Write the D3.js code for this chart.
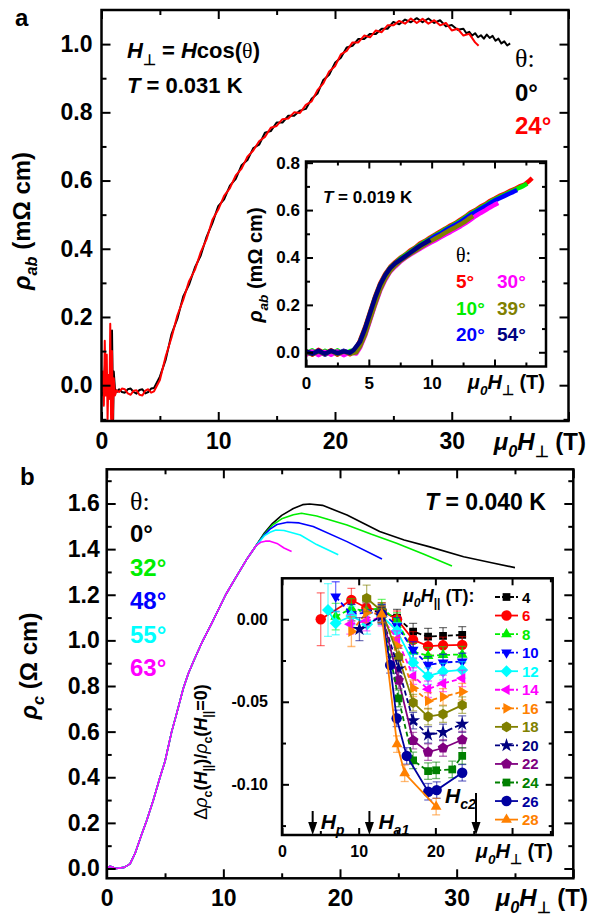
<!DOCTYPE html>
<html>
<head>
<meta charset="utf-8">
<script src="https://d3js.org/d3.v7.min.js"></script>
<style>
  body { margin: 0; background: #fff; }
</style>
</head>
<body>
<script>
var FONT = "'Liberation Sans', Arial, Helvetica, sans-serif";

// ---------- panel a: rho_ab vs mu0 H_perp, T = 0.031 K ----------
var aTheta = ["0°", "24°"];
var aColors = ["#000000", "#ff0000"];
var aCurve0 = [[0.0,0.02],[0.15,-0.03],[0.3,0.06],[0.45,-0.02],[0.6,0.03],[0.75,-0.04],[0.9,0.16],[1.0,-0.1],[1.05,0.04],[1.15,-0.01],[1.3,-0.02],
  [1.5,-0.012],[1.75,-0.02],[2.0,-0.022],[2.25,-0.012],[2.5,-0.01],[2.75,-0.02],[3.0,-0.025],[3.25,-0.014],[3.5,-0.012],[3.75,-0.024],[4.0,-0.02],[4.25,-0.01],[4.5,-0.008],
  [5.0,0.025],[5.5,0.075],[6.0,0.15],[6.5,0.195],
  [7.0,0.26],[7.5,0.295],[8.0,0.345],[8.5,0.38],[9.0,0.435],[9.5,0.475],[10.0,0.525],[10.5,0.545],[11.0,0.585],[11.5,0.605],[12.0,0.645],
  [12.5,0.66],[13.0,0.695],[13.5,0.705],[14.0,0.74],[14.5,0.745],[15.0,0.77],[15.5,0.77],[16.0,0.79],[16.5,0.79],[17.0,0.805],[17.5,0.81],
  [18.0,0.84],[18.5,0.855],[19.0,0.895],[19.5,0.91],[20.0,0.945],[20.5,0.96],[21.0,0.99],[21.5,0.995],[22.0,1.015],[22.5,1.015],[23.0,1.03],
  [23.5,1.03],[24.0,1.045],[24.5,1.045],[25.0,1.065],[25.5,1.058],[26.0,1.072],[26.5,1.064],[27.0,1.076],[27.5,1.064],[28.0,1.075],
  [28.5,1.062],[29.0,1.07],[29.5,1.052],[30.0,1.056],[30.5,1.042],[31.0,1.045],[31.25,1.032],[31.5,1.036],[31.75,1.025],[32.0,1.032],
  [32.25,1.02],[32.5,1.026],[32.75,1.016],[33.0,1.028],[33.25,1.018],[33.5,1.024],[33.75,1.01],[34.0,1.016],[34.25,1.002],[34.5,1.008],
  [34.75,0.996],[35.0,1.002]];
var aCurve24 = [[0.0,-0.02],[0.1,0.04],[0.2,-0.06],[0.28,0.13],[0.36,-0.03],[0.45,0.09],[0.52,-0.1],[0.6,0.03],[0.68,-0.04],[0.75,0.18],
  [0.82,-0.1],[0.9,0.1],[0.97,-0.1],[1.05,0.02],[1.15,-0.03],[1.3,-0.015],
  [1.5,-0.02],[1.75,-0.01],[2.0,-0.012],[2.25,-0.024],[2.5,-0.028],[2.75,-0.016],[3.0,-0.015],[3.25,-0.028],[3.5,-0.03],[3.75,-0.016],[4.0,-0.012],[4.25,-0.022],[4.5,-0.018],
  [5.0,0.015],[5.5,0.085],[6.0,0.14],[6.5,0.205],
  [7.0,0.25],[7.5,0.305],[8.0,0.338],[8.5,0.39],[9.0,0.428],[9.5,0.485],[10.0,0.515],[10.5,0.555],[11.0,0.578],[11.5,0.615],[12.0,0.635],
  [12.5,0.67],[13.0,0.688],[13.5,0.715],[14.0,0.728],[14.5,0.755],[15.0,0.76],[15.5,0.78],[16.0,0.782],[16.5,0.8],[17.0,0.798],[17.5,0.822],
  [18.0,0.832],[18.5,0.865],[19.0,0.885],[19.5,0.92],[20.0,0.935],[20.5,0.97],[21.0,0.98],[21.5,1.005],[22.0,1.005],[22.5,1.025],[23.0,1.02],
  [23.5,1.04],[24.0,1.035],[24.5,1.055],[25.0,1.055],[25.5,1.068],[26.0,1.06],[26.5,1.075],[27.0,1.062],[27.5,1.074],[28.0,1.06],
  [28.5,1.07],[29.0,1.055],[29.5,1.062],[30.0,1.04],[30.5,1.045],[31.0,1.025],[31.5,1.03],[32.0,1.005],[32.3,0.995]];
var aXMajor = [0, 10, 20, 30, 40], aXMinor = [5, 15, 25, 35], aXLabels = [0, 10, 20, 30];
var aYMajor = [0, 0.2, 0.4, 0.6, 0.8, 1.0], aYMinor = [-0.1, 0.1, 0.3, 0.5, 0.7, 0.9];

// ---------- inset of panel a, T = 0.019 K ----------
var iaTheta = ["5°", "10°", "20°", "30°", "39°", "54°"];
var iaColors = ["#ff0000", "#00ee00", "#0000ff", "#ff00ff", "#808000", "#000080"];
var ia5 = [[0,0.005],[0.5,-0.01],[1,0.01],[1.5,-0.005],[2,0.008],[2.5,-0.01],[3,0.005],[3.5,-0.008],[4,0.015],[4.3,0.05],[4.7,0.105],
  [5.1,0.17],[5.5,0.235],[5.9,0.29],[6.3,0.33],[6.7,0.36],[7.1,0.38],[7.5,0.398],[7.9,0.412],[8.3,0.43],[8.7,0.442],[9.1,0.46],[9.5,0.47],
  [9.9,0.485],[10.3,0.497],[10.7,0.51],[11.1,0.522],[11.5,0.535],[11.9,0.545],[12.3,0.56],[12.7,0.573],[13.1,0.59],[13.5,0.6],[13.9,0.615],
  [14.3,0.625],[14.6,0.637],[15.0,0.648],[15.4,0.66],[15.8,0.668],[16.2,0.68],[16.6,0.688],[17.0,0.7],[17.4,0.708],[17.8,0.725],[18.0,0.735]];
var ia10 = [[0,-0.005],[0.5,0.008],[1,-0.01],[1.5,0.006],[2,-0.008],[2.5,0.008],[3,-0.01],[3.5,0.005],[4,0.008],[4.3,0.045],[4.7,0.1],
  [5.1,0.165],[5.5,0.23],[5.9,0.285],[6.3,0.325],[6.7,0.357],[7.1,0.376],[7.5,0.395],[7.9,0.41],[8.3,0.425],[8.7,0.44],[9.1,0.455],
  [9.5,0.468],[9.9,0.48],[10.3,0.494],[10.7,0.505],[11.1,0.52],[11.5,0.53],[11.9,0.543],[12.3,0.555],[12.7,0.57],[13.1,0.585],[13.5,0.597],
  [13.9,0.61],[14.3,0.622],[14.6,0.632],[15.0,0.645],[15.4,0.655],[15.8,0.665],[16.2,0.675],[16.6,0.685],[17.0,0.695],[17.3,0.702],[17.6,0.712]];
var ia20 = [[0,0.0],[0.5,-0.006],[1,0.006],[1.5,-0.01],[2,0.004],[2.5,-0.006],[3,0.006],[3.5,-0.004],[4,0.006],[4.3,0.04],[4.7,0.095],
  [5.1,0.16],[5.5,0.225],[5.9,0.28],[6.3,0.32],[6.7,0.352],[7.1,0.372],[7.5,0.39],[7.9,0.405],[8.3,0.42],[8.7,0.436],[9.1,0.45],[9.5,0.463],
  [9.9,0.476],[10.3,0.49],[10.7,0.5],[11.1,0.515],[11.5,0.527],[11.9,0.538],[12.3,0.55],[12.7,0.565],[13.1,0.58],[13.5,0.592],[13.9,0.605],
  [14.3,0.617],[14.6,0.627],[15.0,0.64],[15.4,0.65],[15.8,0.66],[16.2,0.67],[16.5,0.677],[16.8,0.685]];
var ia30 = [[0,-0.01],[0.5,0.004],[1,-0.012],[1.5,0.002],[2,-0.01],[2.5,0.004],[3,-0.012],[3.5,0.0],[4,-0.005],[4.3,0.02],[4.7,0.07],
  [5.1,0.135],[5.5,0.2],[5.9,0.26],[6.3,0.305],[6.7,0.34],[7.1,0.362],[7.5,0.382],[7.9,0.398],[8.3,0.412],[8.7,0.425],[9.1,0.438],[9.5,0.45],
  [9.9,0.462],[10.3,0.473],[10.7,0.485],[11.1,0.497],[11.5,0.508],[11.9,0.52],[12.3,0.532],[12.7,0.545],[13.1,0.56],[13.5,0.575],
  [13.9,0.588],[14.3,0.6],[14.6,0.61],[15.0,0.622],[15.3,0.63]];
var ia39 = [[0,0.0],[0.5,-0.008],[1,0.004],[1.5,-0.008],[2,0.006],[2.5,-0.008],[3,0.004],[3.5,-0.006],[4,0.0],[4.3,0.025],[4.7,0.075],
  [5.1,0.14],[5.5,0.205],[5.9,0.265],[6.3,0.31],[6.7,0.343],[7.1,0.366],[7.5,0.385],[7.9,0.4],[8.3,0.415],[8.7,0.428],[9.1,0.442],
  [9.5,0.455],[9.9,0.468],[10.3,0.48],[10.7,0.492],[11.1,0.505],[11.5,0.517],[11.9,0.528],[12.3,0.54],[12.7,0.553],[13.0,0.565],[13.3,0.575]];
var ia54 = [[0,0.004],[0.5,-0.006],[1,0.006],[1.5,-0.006],[2,0.006],[2.5,-0.004],[3,0.004],[3.5,-0.002],[3.8,0.01],[4.3,0.045],[4.7,0.1],
  [5.1,0.165],[5.5,0.23],[5.9,0.285],[6.3,0.325],[6.7,0.355],[7.1,0.375],[7.5,0.39],[7.9,0.405],[8.3,0.42],[8.7,0.435],[9.1,0.45],
  [9.5,0.462],[9.9,0.475]];
var iaXMajor = [0, 5, 10, 15], iaXMinor = [2.5, 7.5, 12.5, 17.5], iaXLabels = [0, 5, 10];
var iaYMajor = [0, 0.2, 0.4, 0.6, 0.8], iaYMinor = [0.1, 0.3, 0.5, 0.7];

// ---------- panel b: rho_c vs mu0 H_perp, T = 0.040 K ----------
var bTheta = ["0°", "32°", "48°", "55°", "63°"];
var bColors = ["#000000", "#00ee00", "#0000ff", "#00ffff", "#ff00ff"];
var bRise = [[0,0.0],[0.3,0.01],[0.8,0.0],[1.5,0.005],[2.0,0.02],[2.43,0.066],[3.0,0.15],[3.43,0.21],[4.0,0.3],[4.57,0.4],[5.0,0.47],
  [5.57,0.6],[6.0,0.68],[6.57,0.79],[7.0,0.855],[7.5,0.915],[8.2,0.995],[9.0,1.075],[10.2,1.2],[11.0,1.27],[12.0,1.355],[12.8,1.415]];
var bTail0 = [[13.5,1.47],[14.2,1.512],[15,1.548],[16,1.578],[16.8,1.595],[17.4,1.598],[18.5,1.592],[20.6,1.55],[23.4,1.477],
  [25.5,1.44],[27.7,1.41],[30.6,1.367],[33,1.34],[35.0,1.319]];
var bTail32 = [[13.5,1.465],[14.2,1.505],[15,1.533],[16,1.551],[16.7,1.557],[18,1.545],[20.6,1.506],[22.7,1.465],[24.85,1.426],
  [27.2,1.378],[29.6,1.326]];
var bTail48 = [[13.5,1.462],[14,1.488],[14.6,1.508],[15.5,1.518],[16.5,1.515],[17.7,1.499],[20.6,1.433],[23.6,1.357]];
var bTail55 = [[13.5,1.458],[14,1.474],[14.5,1.484],[15.2,1.482],[16.6,1.462],[18,1.42],[19.85,1.375]];
var bTail63 = [[13.2,1.43],[13.6,1.435],[14.0,1.435],[14.6,1.425],[15.2,1.405],[15.85,1.39]];
var bXMajor = [0, 10, 20, 30, 40], bXMinor = [5, 15, 25, 35], bXLabels = [0, 10, 20, 30];
var bYMajor = [0, 0.2, 0.4, 0.6, 0.8, 1.0, 1.2, 1.4, 1.6], bYMinor = [0.1, 0.3, 0.5, 0.7, 0.9, 1.1, 1.3, 1.5, 1.7];

// ---------- inset of panel b: [mu0H_perp, drho/rho, error] for each mu0H_par ----------
var parFields = [4, 6, 8, 10, 12, 14, 16, 18, 20, 22, 24, 26, 28];
var par4 = [[9.05,0.004,0.005],[11.0,0.006,0.005],[13.0,0.004,0.005],[15.0,0.001,0.005],[17.1,-0.0075,0.005],[19.05,-0.0105,0.005],[21.0,-0.0101,0.005],[23.5,-0.0095,0.005]];
var par6 = [[5.05,0.0,0.016],[9.05,0.0117,0.007],[11.0,0.007,0.006],[13.0,0.005,0.005],[15.0,0.0,0.005],[17.1,-0.0125,0.005],[19.05,-0.0163,0.005],[21.0,-0.0158,0.005],[23.5,-0.0155,0.005]];
var par8 = [[7.0,0.0016,0.008],[9.05,0.0065,0.006],[11.0,0.005,0.006],[13.0,0.007,0.005],[15.0,-0.001,0.005],[17.1,-0.0196,0.005],[19.05,-0.0222,0.005],[21.0,-0.0216,0.005],[23.5,-0.0214,0.005]];
var par10 = [[7.0,0.0137,0.009],[9.05,0.003,0.006],[11.0,0.004,0.006],[13.0,0.004,0.005],[15.0,-0.004,0.005],[17.1,-0.0186,0.005],[19.05,-0.0277,0.005],[21.0,-0.0262,0.005],[23.5,-0.0256,0.005]];
var par12 = [[6.0,0.0056,0.016],[7.0,-0.0024,0.007],[9.05,0.002,0.006],[11.1,-0.003,0.006],[13.0,0.002,0.005],[15.0,-0.007,0.005],[17.1,-0.0263,0.005],[19.05,-0.0345,0.005],[21.0,-0.0317,0.005],[23.5,-0.0307,0.005]];
var par14 = [[8.9,-0.003,0.006],[11.0,-0.001,0.006],[13.0,0.001,0.005],[15.0,-0.012,0.005],[17.1,-0.0344,0.005],[19.05,-0.0424,0.005],[21.0,-0.0388,0.005],[23.5,-0.0358,0.005]];
var par16 = [[9.05,-0.0075,0.009],[11.0,0.004,0.006],[13.0,0.003,0.005],[15.0,-0.016,0.005],[17.1,-0.0418,0.005],[19.05,-0.0495,0.005],[21.0,-0.047,0.005],[23.5,-0.0439,0.005]];
var par18 = [[11.04,0.0127,0.008],[13.0,0.005,0.005],[15.2,-0.0227,0.005],[17.1,-0.0505,0.005],[19.05,-0.059,0.005],[21.0,-0.0575,0.005],[23.5,-0.052,0.005]];
var par20 = [[10.1,-0.006,0.007],[13.0,0.002,0.005],[15.2,-0.03,0.005],[17.1,-0.0614,0.005],[19.05,-0.07,0.005],[21.0,-0.0685,0.005],[23.5,-0.0635,0.005]];
var par22 = [[13.0,0.003,0.005],[15.2,-0.037,0.005],[17.1,-0.0735,0.005],[19.05,-0.0805,0.005],[21.0,-0.078,0.005],[23.5,-0.073,0.005]];
var par24 = [[13.0,0.003,0.005],[15.2,-0.048,0.005],[17.1,-0.0855,0.005],[19.05,-0.092,0.005],[20.1,-0.0915,0.005],[22.2,-0.091,0.005],[23.5,-0.0828,0.005]];
var par26 = [[13.0,0.003,0.005],[14.1,-0.0277,0.005],[14.95,-0.06,0.005],[16.26,-0.0828,0.005],[19.07,-0.1045,0.005],[20.17,-0.1035,0.005],[23.5,-0.093,0.005]];
var par28 = [[13.0,0.003,0.005],[15.0,-0.0757,0.005],[16.0,-0.0933,0.005],[20.1,-0.1135,0.005]];
var parColors = ["#000000","#ff0000","#00ee00","#0000ff","#00ffff","#ff00ff","#ff8000","#808000","#000080","#800080","#008000","#0000a0","#ff8000"];
var parShapes = ["square","circle","up","down","diamond","left","right","hex","star","pent","square","circle","up"];
var parDashed = [true,false,true,true,false,true,true,false,true,false,true,false,false];
var arrowFields = [4.0, 11.4, 25.3]; // H_p, H_a1, H_c2
var ibXMajor = [0, 10, 20, 30], ibXMinor = [5, 15, 25, 35], ibXLabels = [0, 10, 20];
var ibYMajor = [0, -0.05, -0.1], ibYMinor = [-0.025, -0.075, -0.125];

// ---------- drawing ----------
var svg = d3.select("body").append("svg").attr("width", 593).attr("height", 924)
  .attr("font-family", FONT).attr("font-weight", "bold");
var defs = svg.append("defs");
var clipCount = 0;

function clipFor(x, y) {
  var id = "clip" + (clipCount++);
  defs.append("clipPath").attr("id", id).append("rect")
    .attr("x", x.range()[0]).attr("y", y.range()[1])
    .attr("width", x.range()[1] - x.range()[0]).attr("height", y.range()[0] - y.range()[1]);
  return "url(#" + id + ")";
}

function axes(x, y, o) {
  var g = svg.append("g");
  var L = x.range()[0], R = x.range()[1], B = y.range()[0], T = y.range()[1];
  var sides = [
    {f: d3.axisBottom, s: x, tr: "translate(0," + B + ")", maj: o.xMajor, min: o.xMinor, lab: o.xLab, fmt: o.xFmt, pad: o.xPad},
    {f: d3.axisTop, s: x, tr: "translate(0," + T + ")", maj: o.xMajor, min: o.xMinor},
    {f: d3.axisLeft, s: y, tr: "translate(" + L + ",0)", maj: o.yMajor, min: o.yMinor, lab: o.yLab, fmt: o.yFmt, pad: o.yPad},
    {f: d3.axisRight, s: y, tr: "translate(" + R + ",0)", maj: o.yMajor, min: o.yMinor}
  ];
  sides.forEach(function (sd) {
    [[sd.min, o.minor, false], [sd.maj, o.major, true]].forEach(function (k) {
      var ax = sd.f(sd.s).tickValues(k[0]).tickSizeInner(-k[1]).tickSizeOuter(0)
        .tickPadding(sd.pad || 3)
        .tickFormat(function (v) { return k[2] && sd.lab && sd.lab.indexOf(v) >= 0 ? sd.fmt(v) : ""; });
      var a = g.append("g").attr("transform", sd.tr).call(ax);
      a.select(".domain").remove();
      a.selectAll("line").attr("stroke", "#000").attr("stroke-width", 2);
      a.selectAll("text").attr("fill", "#000").attr("font-size", o.fs)
        .attr("font-family", FONT).attr("font-weight", "bold");
    });
  });
  g.append("rect").attr("x", L).attr("y", T).attr("width", R - L).attr("height", B - T)
    .attr("fill", "none").attr("stroke", "#000").attr("stroke-width", 2.5);
  return g;
}

// text with italic / subscript / serif pieces
function rich(parent, x, y, parts, size, color, anchor) {
  var t = parent.append("text").attr("x", x).attr("y", y).attr("font-size", size)
    .attr("fill", color || "#000");
  if (anchor) t.attr("text-anchor", anchor);
  var shift = 0;
  parts.forEach(function (p) {
    var s = t.append("tspan").text(p.t);
    var want = p.sub ? size * 0.3 : 0;
    if (want !== shift) { s.attr("dy", want - shift); shift = want; }
    if (p.sub) s.attr("font-size", size * 0.68);
    if (p.i) s.attr("font-style", "italic");
    if (p.serif) s.attr("font-family", "'Liberation Serif', 'Times New Roman', serif").attr("font-weight", "normal");
    if (p.plain) s.attr("font-weight", "normal");
  });
  return t;
}

function rotated(x, y, parts, size) {
  var g = svg.append("g").attr("transform", "translate(" + x + "," + y + ") rotate(-90)");
  rich(g, 0, 0, parts, size, "#000", "middle");
}

var fieldLabel = [{t: "μ", i: 1}, {t: "0", i: 1, sub: 1}, {t: "H", i: 1}, {t: "⊥", sub: 1}, {t: " (T)"}];

function noisyLine(g, x, y, data, color, width) {
  g.append("path").datum(data)
    .attr("d", d3.line().x(function (d) { return x(d[0]); }).y(function (d) { return y(d[1]); }))
    .attr("fill", "none").attr("stroke", color).attr("stroke-width", width)
    .attr("stroke-linejoin", "round");
}

// ===== panel a =====
var xa = d3.scaleLinear().domain([0, 40]).range([101.5, 568.5]);
var ya = d3.scaleLinear().domain([-0.105, 1.10]).range([421, 10]);
var ga = svg.append("g").attr("clip-path", clipFor(xa, ya));
[aCurve0, aCurve24].forEach(function (c, i) { noisyLine(ga, xa, ya, c, aColors[i], 2); });
axes(xa, ya, {xMajor: aXMajor, xMinor: aXMinor, xLab: aXLabels, xFmt: function (v) { return v; }, xPad: 12,
  yMajor: aYMajor, yMinor: aYMinor, yLab: aYMajor, yFmt: function (v) { return v.toFixed(1); }, yPad: 9,
  major: 9, minor: 5, fs: 23});
rotated(30, 221, [{t: "ρ", i: 1}, {t: "ab", i: 1, sub: 1}, {t: " (mΩ cm)"}], 24);
rich(svg, 586, 450, fieldLabel, 24, "#000", "end");
svg.append("text").attr("x", 15).attr("y", 26).attr("font-size", 24).text("a");
rich(svg, 127, 58, [{t: "H", i: 1}, {t: "⊥", sub: 1}, {t: " = "}, {t: "H", i: 1}, {t: "cos("}, {t: "θ", serif: 1}, {t: ")"}], 22);
rich(svg, 127, 93, [{t: "T", i: 1}, {t: " = 0.031 K"}], 22);
rich(svg, 515, 67, [{t: "θ:", serif: 1}], 26);
aTheta.forEach(function (s, i) {
  svg.append("text").attr("x", 515).attr("y", 101 + i * 33).attr("font-size", 24).attr("fill", aColors[i]).text(s);
});

// ===== inset a =====
var xia = d3.scaleLinear().domain([0, 19.1]).range([306, 546]);
var yia = d3.scaleLinear().domain([-0.06, 0.805]).range([366.5, 161.5]);
svg.append("rect").attr("x", 306).attr("y", 161.5).attr("width", 240).attr("height", 205).attr("fill", "#fff");
var gia = svg.append("g").attr("clip-path", clipFor(xia, yia));
[ia5, ia10, ia20, ia30, ia39, ia54].forEach(function (c, i) { noisyLine(gia, xia, yia, c, iaColors[i], 4.5); });
axes(xia, yia, {xMajor: iaXMajor, xMinor: iaXMinor, xLab: iaXLabels, xFmt: function (v) { return v; }, xPad: 10,
  yMajor: iaYMajor, yMinor: iaYMinor, yLab: iaYMajor, yFmt: function (v) { return v.toFixed(1); }, yPad: 6,
  major: 7, minor: 4, fs: 17});
rotated(262, 265, [{t: "ρ", i: 1}, {t: "ab", i: 1, sub: 1}, {t: " (mΩ cm)"}], 20);
rich(svg, 545, 389, fieldLabel, 20, "#000", "end");
rich(svg, 323, 203, [{t: "T", i: 1}, {t: " = 0.019 K"}], 17);
rich(svg, 456, 262, [{t: "θ:", serif: 1}], 20);
iaTheta.forEach(function (s, i) {
  svg.append("text").attr("x", i < 3 ? 456 : 497).attr("y", 288 + (i % 3) * 26.5)
    .attr("font-size", 19).attr("fill", iaColors[i]).text(s);
});

// ===== panel b =====
var xb = d3.scaleLinear().domain([0, 40]).range([106.7, 573.3]);
var yb = d3.scaleLinear().domain([-0.043, 1.75]).range([878.3, 469.3]);
var gb = svg.append("g").attr("clip-path", clipFor(xb, yb));
[bTail0, bTail32, bTail48, bTail55, bTail63].forEach(function (tail, i) {
  noisyLine(gb, xb, yb, bRise.concat(tail), bColors[i], 1.6);
});
axes(xb, yb, {xMajor: bXMajor, xMinor: bXMinor, xLab: bXLabels, xFmt: function (v) { return v; }, xPad: 11,
  yMajor: bYMajor, yMinor: bYMinor, yLab: bYMajor, yFmt: function (v) { return v.toFixed(1); }, yPad: 7,
  major: 9, minor: 5, fs: 23});
rotated(37, 666, [{t: "ρ", i: 1}, {t: "c", i: 1, sub: 1}, {t: " (Ω cm)"}], 24);
rich(svg, 588, 906, fieldLabel, 24, "#000", "end");
svg.append("text").attr("x", 20).attr("y", 485).attr("font-size", 24).text("b");
rich(svg, 425, 510, [{t: "T", i: 1}, {t: " = 0.040 K"}], 23);
rich(svg, 130, 510, [{t: "θ:", serif: 1}], 26);
bTheta.forEach(function (s, i) {
  svg.append("text").attr("x", 130).attr("y", 542 + i * 33.5).attr("font-size", 24).attr("fill", bColors[i]).text(s);
});

// ===== inset b =====
var xib = d3.scaleLinear().domain([0, 35.3]).range([282, 552.7]);
var yib = d3.scaleLinear().domain([-0.1307, 0.0248]).range([835, 578.3]);
svg.append("rect").attr("x", 282).attr("y", 578.3).attr("width", 270.7).attr("height", 256.7).attr("fill", "#fff");
var gib = svg.append("g").attr("clip-path", clipFor(xib, yib));

function polyPath(n, r, rot) {
  var pts = d3.range(n).map(function (i) {
    var a = rot + i * 2 * Math.PI / n;
    return [(r * Math.sin(a)).toFixed(2), (-r * Math.cos(a)).toFixed(2)];
  });
  return "M" + pts.join("L") + "Z";
}
var shapePaths = {
  square: d3.symbol(d3.symbolSquare, 60)(),
  circle: d3.symbol(d3.symbolCircle, 85)(),
  up: polyPath(3, 6.2, 0),
  down: polyPath(3, 6.2, Math.PI),
  left: polyPath(3, 6.2, -Math.PI / 2),
  right: polyPath(3, 6.2, Math.PI / 2),
  diamond: polyPath(4, 6, 0),
  hex: polyPath(6, 5.3, 0),
  star: d3.symbol(d3.symbolStar, 60)(),
  pent: polyPath(5, 5.6, 0)
};

var parData = [par4, par6, par8, par10, par12, par14, par16, par18, par20, par22, par24, par26, par28];
var parLine = d3.line().x(function (d) { return xib(d[0]); }).y(function (d) { return yib(d[1]); });
parData.forEach(function (series, k) {
  var col = parColors[k];
  var g = gib.append("g");
  // error bars
  series.forEach(function (d) {
    var px = xib(d[0]), top = yib(d[1] + d[2]), bot = yib(d[1] - d[2]);
    var e = g.append("g").attr("stroke", col).attr("stroke-opacity", 0.55).attr("stroke-width", 1.3);
    e.append("line").attr("x1", px).attr("x2", px).attr("y1", top).attr("y2", bot);
    e.append("line").attr("x1", px - 4).attr("x2", px + 4).attr("y1", top).attr("y2", top);
    e.append("line").attr("x1", px - 4).attr("x2", px + 4).attr("y1", bot).attr("y2", bot);
  });
  g.append("path").datum(series).attr("d", parLine).attr("fill", "none").attr("stroke", col)
    .attr("stroke-width", 1.8).attr("stroke-dasharray", parDashed[k] ? "5,3" : null);
  g.selectAll("path.m").data(series).enter().append("path").attr("class", "m")
    .attr("d", shapePaths[parShapes[k]])
    .attr("transform", function (d) { return "translate(" + xib(d[0]) + "," + yib(d[1]) + ")"; })
    .attr("fill", col);
});

axes(xib, yib, {xMajor: ibXMajor, xMinor: ibXMinor, xLab: ibXLabels, xFmt: function (v) { return v; }, xPad: 11,
  yMajor: ibYMajor, yMinor: ibYMinor, yLab: ibYMajor, yFmt: function (v) { return v.toFixed(2); }, yPad: 14,
  major: 7, minor: 4, fs: 16});
rich(svg, 553, 858, fieldLabel, 20, "#000", "end");
rotated(207, 752, [{t: "Δ", plain: 1}, {t: "ρ", i: 1, plain: 1}, {t: "c", sub: 1}, {t: "("}, {t: "H", i: 1}, {t: "||", sub: 1},
  {t: ")/"}, {t: "ρ", i: 1, plain: 1}, {t: "c", sub: 1}, {t: "("}, {t: "H", i: 1}, {t: "||", sub: 1}, {t: "=0)"}], 18);

// arrows H_p, H_a1, H_c2
var arrowLens = [24, 24, 42];
var arrowText = [["H", "p"], ["H", "a1"], ["H", "c2"]];
var arrowDx = [8, 9, -31], arrowBase = [829, 829, 803];
arrowFields.forEach(function (f, i) {
  var px = xib(f), tip = yib.range()[0];
  svg.append("line").attr("x1", px).attr("x2", px).attr("y1", tip - arrowLens[i]).attr("y2", tip - 10)
    .attr("stroke", "#000").attr("stroke-width", 2);
  svg.append("path").attr("d", "M" + (px - 4.5) + "," + (tip - 13) + "L" + (px + 4.5) + "," + (tip - 13) + "L" + px + "," + tip + "Z")
    .attr("fill", "#000");
  rich(svg, px + arrowDx[i], arrowBase[i], [{t: arrowText[i][0], i: 1}, {t: arrowText[i][1], i: 1, sub: 1}], 21);
});

// legend
rich(svg, 403, 602, [{t: "μ", i: 1}, {t: "0", i: 1, sub: 1}, {t: "H", i: 1}, {t: "||", sub: 1}, {t: " (T):"}], 18);
parFields.forEach(function (f, k) {
  var yy = 597 + k * 18.55;
  var lg = svg.append("g");
  lg.append("line").attr("x1", 495).attr("x2", 518).attr("y1", yy).attr("y2", yy)
    .attr("stroke", parColors[k]).attr("stroke-width", 1.8).attr("stroke-dasharray", parDashed[k] ? "5,2" : null);
  lg.append("path").attr("d", shapePaths[parShapes[k]]).attr("transform", "translate(506.5," + yy + ")").attr("fill", parColors[k]);
  lg.append("text").attr("x", 522).attr("y", yy + 5.5).attr("font-size", 15).attr("fill", parColors[k]).text(f);
});
</script>
</body>
</html>
